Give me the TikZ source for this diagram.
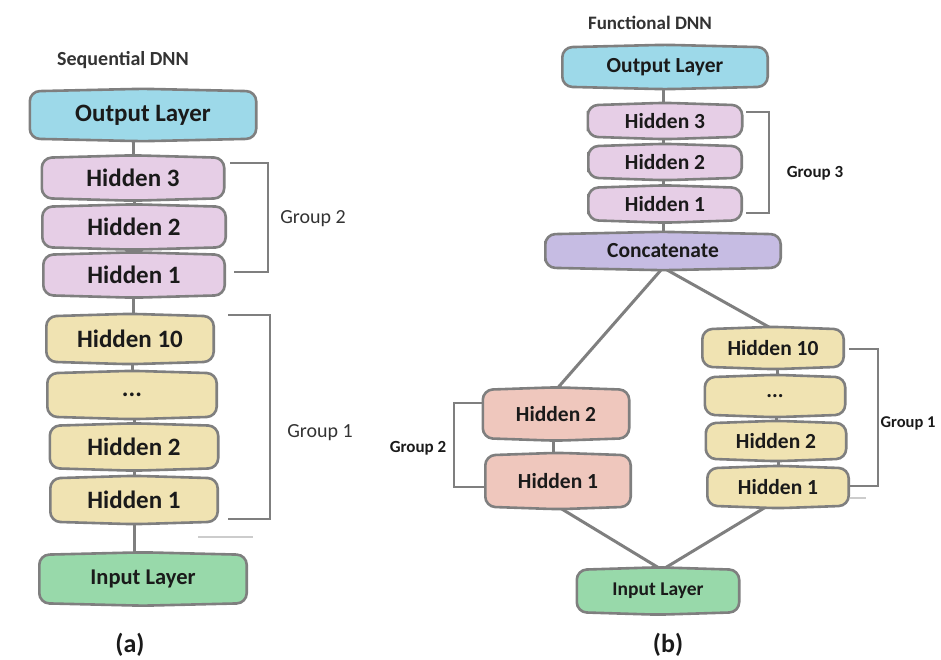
\documentclass[tikz,border=0pt]{standalone}
\usepackage{fontspec}
\setmainfont{Carlito}
\usetikzlibrary{backgrounds}
\definecolor{cOut}{HTML}{9DD9E9}
\definecolor{cPink}{HTML}{E6CEE6}
\definecolor{cYel}{HTML}{F0E3B2}
\definecolor{cGrn}{HTML}{98D9AA}
\definecolor{cSal}{HTML}{EFC7BD}
\definecolor{cCat}{HTML}{C6BCE3}
\definecolor{cLine}{HTML}{7F7F7F}
\definecolor{cTxt}{HTML}{1A1A1A}
\definecolor{cLbl}{HTML}{333333}
\newcommand\fs[1]{\fontsize{#1}{#1}\selectfont}
\newcommand\lbox[2]{%
 \path[boxln,fill=#2,rounded corners=10pt]
  (#1.west) -- (#1.north west) -- ([yshift=2.5pt]#1.north) -- (#1.north east)
  -- (#1.south east) -- ([yshift=-2.5pt]#1.south) -- (#1.south west) -- cycle;}
\tikzset{
  lay/.style={inner sep=0pt, text=cTxt, font=\bfseries\fs{25}},
  layb/.style={inner sep=0pt, text=cTxt, font=\bfseries\fs{21.5}},
  boxln/.style={draw=cLine, line width=2.6pt},
  conn/.style={draw=cLine, line width=3pt},
  brk/.style={draw=cLine, line width=2.4pt},
  stray/.style={draw=cLine!40, line width=1.2pt},
  grpa/.style={text=cLbl, font=\fs{20}},
  grpb/.style={text=cTxt, font=\bfseries\fs{17}},
  ttl/.style={text=cLbl, font=\bfseries\fs{20}},
  sub/.style={text=cTxt, font=\bfseries\fs{26}}
}
\begin{document}
\begin{tikzpicture}[x=1pt,y=-1pt]
\useasboundingbox (0,0) rectangle (941,659);
% ---------------- (a) Sequential DNN
\node[ttl] (ta) at (123,60) {Sequential DNN};
\node[lay, minimum width=226pt, minimum height=47pt] (outA) at (143,115) {Output Layer};
\node[lay, minimum width=182pt, minimum height=40pt] (h3A) at (133,178) {Hidden 3};
\node[lay, minimum width=183pt, minimum height=40pt] (h2A) at (134,227) {Hidden 2};
\node[lay, minimum width=181pt, minimum height=40pt] (h1A) at (134,275) {Hidden 1};
\node[lay, minimum width=167pt, minimum height=45pt] (g10A) at (130,339) {Hidden 10};
\node[lay, minimum width=169pt, minimum height=43pt] (gdA) at (132,395) {...};
\node[lay, minimum width=168pt, minimum height=42pt] (g2A) at (134,447) {Hidden 2};
\node[lay, minimum width=167pt, minimum height=43pt] (g1A) at (134,500) {Hidden 1};
\node[lay, font=\bfseries\fs{22.5}, minimum width=207pt, minimum height=48pt] (inA) at (143,579) {Input Layer};
\node[grpa] (lg2A) at (313,219) {Group 2};
\node[grpa] (lg1A) at (320,433) {Group 1};
\node[sub] (la) at (130,645) {(a)};
% ---------------- (b) Functional DNN
\node[ttl, font=\bfseries\fs{19}] (tb) at (650,23) {Functional DNN};
\node[layb, minimum width=205pt, minimum height=39pt] (outB) at (665,67) {Output Layer};
\node[layb, minimum width=154pt, minimum height=31pt] (h3B) at (665,121) {Hidden 3};
\node[layb, minimum width=153pt, minimum height=31pt] (h2B) at (665,162) {Hidden 2};
\node[layb, minimum width=153pt, minimum height=32pt] (h1B) at (665,204) {Hidden 1};
\node[layb, minimum width=235pt, minimum height=33pt] (catB) at (663,251) {Concatenate};
\node[layb, minimum width=146pt, minimum height=48pt] (l2B) at (556,414) {Hidden 2};
\node[layb, minimum width=145pt, minimum height=51pt] (l1B) at (558,481) {Hidden 1};
\node[layb, minimum width=141pt, minimum height=37pt] (r10B) at (773,348) {Hidden 10};
\node[layb, minimum width=140pt, minimum height=37pt] (rdB) at (775,396) {...};
\node[layb, minimum width=140pt, minimum height=35pt] (r2B) at (776,441) {Hidden 2};
\node[layb, minimum width=141pt, minimum height=37pt] (r1B) at (778,487) {Hidden 1};
\node[layb, font=\bfseries\fs{19.5}, minimum width=162pt, minimum height=42pt] (inB) at (658,591) {Input Layer};
\node[grpb] (lg3B) at (815,173) {Group 3};
\node[grpb] (lg2B) at (418,448) {Group 2};
\node[grpb, font=\bfseries\fs{16.5}, anchor=east] (lg1B) at (939,423) {Group 1};
\node[sub] (lb) at (668,645) {(b)};
\begin{scope}[on background layer]
% connectors (a)
\draw[conn] (h3A.north) -- (h3A.north |- outA.south);
\draw[conn] (h2A.north) -- (h2A.north |- h3A.south);
\draw[conn] (h1A.north) -- (h1A.north |- h2A.south);
\draw[conn] (g10A.north) ++(3pt,0) coordinate (c1) -- (c1 |- h1A.south);
\draw[conn] (gdA.north) -- (gdA.north |- g10A.south);
\draw[conn] (g2A.north) -- (g2A.north |- gdA.south);
\draw[conn] (g1A.north) -- (g1A.north |- g2A.south);
\draw[conn] (g1A.south) -- (g1A.south |- inA.north);
% brackets (a)
\draw[brk] (230,163) -- (268,163) -- (268,272) -- (234,272);
\draw[brk] (228,315) -- (270,315) -- (270,519) -- (228,519);
\draw[stray] (198,537) -- (253,537);
% connectors (b)
\draw[conn] (h3B.north) ++(-2pt,0) coordinate (c2) -- (c2 |- outB.south);
\draw[conn] (h2B.north) ++(-2pt,0) coordinate (c3) -- (c3 |- h3B.south);
\draw[conn] (h1B.north) ++(-2pt,0) coordinate (c4) -- (c4 |- h2B.south);
\draw[conn] (catB.north) -- (catB.north |- h1B.south);
\draw[conn] (catB.south) -- (l2B.north);
\draw[conn] (catB.south) -- (r10B.north);
\draw[conn] (l1B.north) ++(-5pt,0) coordinate (c5) -- (c5 |- l2B.south);
\draw[conn] (rdB.north) ++(2pt,0) coordinate (c6) -- (c6 |- r10B.south);
\draw[conn] (r2B.north) -- (r2B.north |- rdB.south);
\draw[conn] (r1B.north) -- (r1B.north |- r2B.south);
\draw[conn] (l1B.south) -- ([xshift=4pt]inB.north);
\draw[conn] ([xshift=-10pt]r1B.south) -- ([xshift=4pt]inB.north);
% brackets (b)
\draw[brk] (746,112) -- (769,112) -- (769,213) -- (746,213);
\draw[brk] (483,403) -- (454,403) -- (454,487) -- (486,487);
\draw[brk] (849,349) -- (878,349) -- (878,486) -- (850,486);
\draw[stray] (850,498) -- (866,498);
% boxes
\lbox{outA}{cOut}
\lbox{h3A}{cPink}
\lbox{h2A}{cPink}
\lbox{h1A}{cPink}
\lbox{g10A}{cYel}
\lbox{gdA}{cYel}
\lbox{g2A}{cYel}
\lbox{g1A}{cYel}
\lbox{inA}{cGrn}
\lbox{outB}{cOut}
\lbox{h3B}{cPink}
\lbox{h2B}{cPink}
\lbox{h1B}{cPink}
\lbox{catB}{cCat}
\lbox{l2B}{cSal}
\lbox{l1B}{cSal}
\lbox{r10B}{cYel}
\lbox{rdB}{cYel}
\lbox{r2B}{cYel}
\lbox{r1B}{cYel}
\lbox{inB}{cGrn}
\end{scope}
\end{tikzpicture}
\end{document}
